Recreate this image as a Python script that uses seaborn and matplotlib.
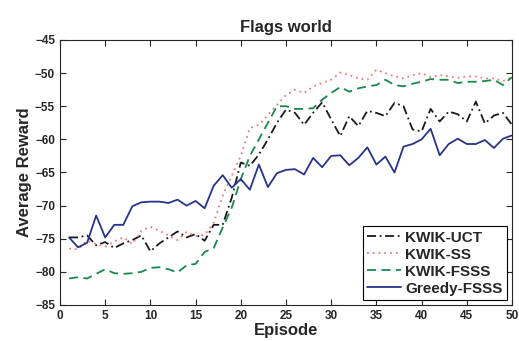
import numpy as np
import pandas as pd
import matplotlib
matplotlib.use("Agg")
import matplotlib.pyplot as plt
import seaborn as sns

# === DATA ===
episodes = list(range(1, 51))

kwik_uct = [-74.8, -74.8, -74.5, -76.0, -75.5, -76.4, -75.7, -75.2, -74.5, -76.9,
            -75.7, -74.8, -73.9, -74.8, -74.3, -75.3, -72.9, -72.9, -68.8, -63.5,
            -64.0, -62.3, -60.0, -57.5, -55.5, -56.0, -57.8, -56.0, -54.4, -57.0,
            -59.5, -56.5, -58.0, -55.7, -56.0, -56.5, -54.5, -55.0, -58.5, -58.8,
            -55.4, -57.3, -55.8, -56.2, -57.3, -54.3, -57.6, -56.4, -56.0, -57.8]

kwik_ss = [-76.5, -76.6, -75.3, -75.8, -76.2, -75.4, -74.8, -75.8, -73.8, -73.2,
           -73.8, -74.5, -75.2, -74.0, -74.6, -74.4, -72.6, -68.5, -65.5, -62.5,
           -58.3, -57.8, -56.3, -54.8, -53.3, -52.5, -53.0, -52.0, -51.5, -51.0,
           -49.9, -50.3, -50.8, -51.0, -49.5, -50.0, -50.5, -50.8, -50.3, -50.0,
           -50.6, -50.3, -50.5, -50.7, -50.5, -50.5, -50.8, -50.8, -51.2, -50.6]

kwik_fsss = [-81.0, -80.8, -81.0, -80.3, -79.6, -80.2, -80.3, -80.2, -80.0, -79.4,
             -79.3, -79.6, -80.1, -79.0, -78.8, -77.0, -76.4, -73.3, -70.3, -66.0,
             -62.5, -60.0, -57.5, -55.0, -55.0, -55.4, -55.4, -55.3, -54.0, -53.0,
             -52.1, -52.8, -52.3, -52.0, -51.8, -51.0, -51.8, -52.0, -51.6, -51.3,
             -50.9, -51.0, -51.0, -51.5, -51.3, -51.3, -51.2, -51.0, -51.8, -50.6]

greedy_fsss = [-74.8, -76.3, -75.6, -71.5, -74.8, -72.9, -72.9, -70.1, -69.5, -69.4,
               -69.4, -69.6, -69.1, -70.0, -69.3, -70.4, -67.0, -65.4, -67.3, -66.0,
               -67.6, -63.8, -67.2, -65.1, -64.6, -64.5, -65.3, -62.8, -64.2, -62.5,
               -62.4, -63.9, -62.8, -61.2, -63.8, -62.6, -65.0, -61.1, -60.7, -60.0,
               -58.4, -62.4, -60.7, -59.9, -60.7, -60.7, -60.1, -61.3, -59.9, -59.4]

series_names = ["KWIK-UCT", "KWIK-SS", "KWIK-FSSS", "Greedy-FSSS"]
series_values = [kwik_uct, kwik_ss, kwik_fsss, greedy_fsss]

# long-form table for seaborn
df = pd.concat([
    pd.DataFrame({"Episode": episodes, "Reward": vals, "Method": name})
    for name, vals in zip(series_names, series_values)
])

# === STYLE ===
sns.set_style("ticks")
plt.rcParams["font.family"] = ["Liberation Sans", "DejaVu Sans"]
plt.rcParams["font.weight"] = "bold"

colors = {"KWIK-UCT": "#1a1a1a", "KWIK-SS": "#f27a7a",
          "KWIK-FSSS": "#17894a", "Greedy-FSSS": "#27348b"}
styles = {"KWIK-UCT": (0, (5, 2, 1, 2)), "KWIK-SS": (0, (1, 2.2)),
          "KWIK-FSSS": (0, (5, 3)), "Greedy-FSSS": "-"}

fig = plt.figure(figsize=(5.19, 3.41), dpi=100)
ax = fig.add_axes([0.1156, 0.1056, 0.8709, 0.7771])

for name in series_names:
    sns.lineplot(data=df[df["Method"] == name], x="Episode", y="Reward",
                 color=colors[name], linestyle=styles[name], linewidth=1.3,
                 label=name, ax=ax)

ax.set_xlim(0, 50)
ax.set_ylim(-85, -45)
ax.set_xticks(np.arange(0, 51, 5))
ax.set_yticks(np.arange(-85, -44, 5))
ax.tick_params(direction="in", length=4, width=0.8, labelsize=8.5,
               top=True, right=True)
for lbl in ax.get_xticklabels() + ax.get_yticklabels():
    lbl.set_fontweight("bold")
for s in ax.spines.values():
    s.set_linewidth(0.8)

ax.set_title("Flags world", fontsize=12, fontweight="bold", pad=6)
ax.set_xlabel("Episode", fontsize=12, fontweight="bold", labelpad=1)
ax.set_ylabel("Average Reward", fontsize=12, fontweight="bold", labelpad=2)

leg = ax.legend(loc="lower right", fontsize=11, frameon=True, fancybox=False,
                edgecolor="black", framealpha=1, borderpad=0.3,
                labelspacing=0.2, handlelength=2.2, handletextpad=0.3,
                borderaxespad=0.3)
leg.get_frame().set_linewidth(0.8)
for t in leg.get_texts():
    t.set_fontweight("bold")

fig.savefig("out.png", dpi=100)
